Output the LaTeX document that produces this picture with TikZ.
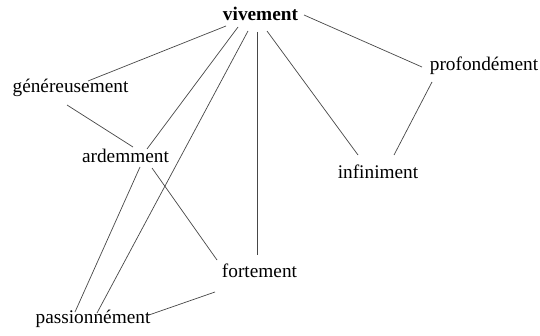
\documentclass[tikz,border=0pt]{standalone}
\usepackage{fontspec}
\setmainfont{Liberation Serif}
\begin{document}
\begin{tikzpicture}[x=1pt,y=1pt,
  word/.style={inner sep=0pt,anchor=base,font=\fontsize{19.3}{23}\selectfont},
  link/.style={draw=black!72,line width=0.7pt}]
\useasboundingbox[fill=white] (0,0) rectangle (540,335);
\node[word,font=\fontsize{19.3}{23}\selectfont\bfseries] (viv) at (260.5,314) {vivement};
\node[word] (gen) at (70.5,242) {généreusement};
\node[word] (ard) at (125.5,172) {ardemment};
\node[word] (inf) at (378,157) {infiniment};
\node[word] (pro) at (484,264) {profondément};
\node[word] (fort) at (259.5,58) {fortement};
\node[word] (pas) at (93,12) {passionnément};
% edges
\draw[link] ([shift={(-34.5,-5)}]viv.base) -- ([shift={(17.5,12)}]gen.base);
\draw[link] ([shift={(-22.5,-6)}]viv.base) -- ([shift={(21.5,14)}]ard.base);
\draw[link] ([shift={(-12.5,-10)}]viv.base) -- ([shift={(4,10)}]pas.base);
\draw[link] ([shift={(-3.5,-11)}]viv.base) -- ([shift={(-2.5,22)}]fort.base);
\draw[link] ([shift={(6.5,-10)}]viv.base) -- ([shift={(-20,23)}]inf.base);
\draw[link] ([shift={(43.5,6)}]viv.base) -- ([shift={(-62,4)}]pro.base);
\draw[link] ([shift={(-52,-11)}]pro.base) -- ([shift={(16,23)}]inf.base);
\draw[link] ([shift={(-3.5,-12)}]gen.base) -- ([shift={(7.5,16)}]ard.base);
\draw[link] ([shift={(14.5,-4)}]ard.base) -- ([shift={(-18,11)}]pas.base);
\draw[link] ([shift={(26.5,-5)}]ard.base) -- ([shift={(-42.5,17)}]fort.base);
\draw[link] ([shift={(-44.5,-15)}]fort.base) -- ([shift={(53,7)}]pas.base);
\end{tikzpicture}
\end{document}
